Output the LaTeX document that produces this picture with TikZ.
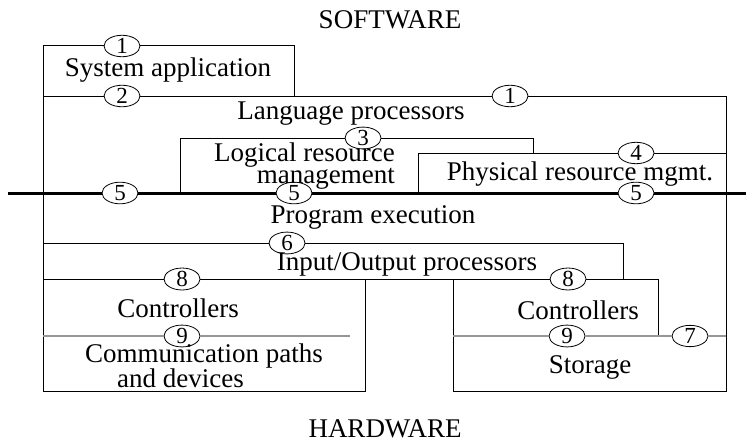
\documentclass[tikz,border=0pt]{standalone}
\usepackage{fontspec}
\setmainfont{Liberation Serif}
\usepackage{tikz}
\usetikzlibrary{shapes.geometric}
\definecolor{paleline}{RGB}{150,150,150}
\tikzstyle{rule}=[black,line width=1pt]
\tikzstyle{paleRule}=[paleline,line width=1.2pt]
\tikzstyle{boundary}=[black,line width=3pt]
\tikzstyle{tag}=[ellipse,draw,black,line width=0.8pt,inner sep=0pt,minimum width=36pt,minimum height=21pt,font=\fontsize{23}{23}\selectfont]
\tikzstyle{label}=[inner sep=0pt,font=\fontsize{27}{21}\selectfont]

\begin{document}
\begin{tikzpicture}[x=1pt,y=-1pt]
            \useasboundingbox (0,0) rectangle (751,444);
            \def\xl{43}
            \def\xr{726}
            \def\ybot{391}
            % corners
            \coordinate (A) at (\xl,46);
            \coordinate (B) at (294,46);
            \coordinate (C) at (294,96);
            \coordinate (D) at (\xl,96);
            \coordinate (E) at (\xr,96);
            \coordinate (F) at (\xr,\ybot);
            \coordinate (LB) at (\xl,\ybot);
            \coordinate (LR) at (365,\ybot);
            \coordinate (LT) at (365,279);
            \coordinate (RB) at (453,\ybot);
            \coordinate (RT) at (453,279);
            \coordinate (P3a) at (180,193);
            \coordinate (P3b) at (180,138);
            \coordinate (P3c) at (533,138);
            \coordinate (P3d) at (533,153);
            \coordinate (P4a) at (418,193);
            \coordinate (P4b) at (418,153);
            \coordinate (P4c) at (\xr,153);
            \coordinate (X1) at (8,193);
            \coordinate (X2) at (746,193);
            \coordinate (P6a) at (\xl,243);
            \coordinate (P6b) at (623,243);
            \coordinate (P6c) at (623,279);
            \coordinate (P8a) at (\xl,279);
            \coordinate (P8b) at (658,279);
            \coordinate (P8c) at (658,336);
            \coordinate (P9a) at (\xl,336);
            \coordinate (P9b) at (350,336);
            \coordinate (P9c) at (453,336);
            \coordinate (P9d) at (\xr,336);
            % numbered tags
            \node[tag] (t1a) at (122,46) {1};
            \node[tag] (t2) at (122,96) {2};
            \node[tag] (t1b) at (510,96) {1};
            \node[tag] (t3) at (363,138) {3};
            \node[tag] (t4) at (636,153) {4};
            \node[tag] (t5a) at (120,193) {5};
            \node[tag] (t5b) at (294,193) {5};
            \node[tag] (t5c) at (636,193) {5};
            \node[tag] (t6) at (287,243) {6};
            \node[tag] (t8a) at (182,279) {8};
            \node[tag] (t8b) at (568,279) {8};
            \node[tag] (t9a) at (182,336) {9};
            \node[tag] (t9b) at (567,336) {9};
            \node[tag] (t7) at (690,336) {7};
            % texts
            \node[label] (sw) at (390,20) {SOFTWARE};
            \node[label] (hw) at (385,429) {HARDWARE};
            \node[label] (sys) at (168,70) {System application};
            \node[label] (lang) at (351,114) {Language processors};
            \node[label,align=right,anchor=east] (logic) at (395,166) {Logical resource\\management};
            \node[label] (phys) at (580,174) {Physical resource mgmt.};
            \node[label] (exec) at (373,217) {Program execution};
            \node[label] (io) at (407,264) {Input/Output processors};
            \node[label] (ctrlA) at (178,308) {Controllers};
            \node[label] (ctrlB) at (578,310) {Controllers};
            \node[label,align=left,anchor=west] (comm) at (85,366) {Communication paths\\\hspace*{32pt}and devices};
            \node[label] (store) at (590,367) {Storage};
            % layer outlines
            \draw[rule] (LB) -- (A) -- (t1a) -- (B) -- (C);
            \draw[rule] (D) -- (t2) -- (t1b) -- (E) -- (F) -- (RB) -- (RT);
            \draw[rule] (P3a) -- (P3b) -- (t3) -- (P3c) -- (P3d);
            \draw[rule] (P4a) -- (P4b) -- (t4) -- (P4c);
            \draw[rule] (P6a) -- (t6) -- (P6b) -- (P6c);
            \draw[rule] (P8a) -- (t8a) -- (t8b) -- (P8b) -- (P8c);
            \draw[rule] (LB) -- (LR) -- (LT);
            \draw[paleRule] (P9a) -- (t9a) -- (P9b);
            \draw[paleRule] (P9c) -- (t9b) -- (P8c) -- (t7) -- (P9d);
            \draw[boundary] (X1) -- (t5a) -- (t5b) -- (t5c) -- (X2);
        \end{tikzpicture}
\end{document}
